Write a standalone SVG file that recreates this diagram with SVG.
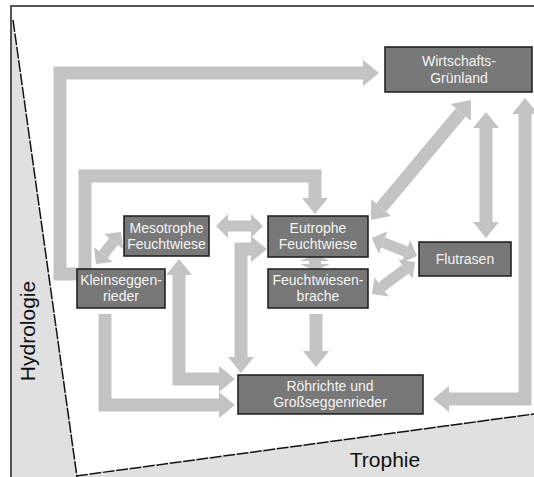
<svg xmlns="http://www.w3.org/2000/svg" width="534" height="477" viewBox="0 0 534 477">
<style>
.c{fill:none;stroke:#c3c3c3;stroke-width:13;stroke-linejoin:miter}
.cs{fill:none;stroke:#c3c3c3;stroke-width:11;stroke-linejoin:miter}
.n{fill:#787878;stroke:#1a1a1a;stroke-width:1.5}
.t{font-family:"Liberation Sans",Arial,sans-serif;font-size:14px;fill:#f4f4f4;text-anchor:middle}
.ax{font-family:"Liberation Sans",Arial,sans-serif;font-size:21px;fill:#111;text-anchor:middle}
</style>
<defs>
<marker id="ah" markerUnits="userSpaceOnUse" markerWidth="20" markerHeight="30" refX="0" refY="13" orient="auto-start-reverse" overflow="visible"><path d="M0,0 L16,13 L0,26 Z" fill="#c3c3c3"/></marker>
<marker id="as" markerUnits="userSpaceOnUse" markerWidth="16" markerHeight="26" refX="0" refY="12" orient="auto-start-reverse" overflow="visible"><path d="M0,0 L12,12 L0,24 Z" fill="#c3c3c3"/></marker>
</defs>
<rect x="0" y="0" width="534" height="477" fill="#fff"/>
<g id="frame">
<polygon points="12,20 77,477 12,477" fill="#e0e0e0"/>
<polygon points="77,477 534,413 534,477" fill="#e0e0e0"/>
<line x1="13" y1="20" x2="77" y2="477" stroke="#111" stroke-width="1.5" stroke-dasharray="12 1.5"/>
<line x1="76" y1="476" x2="534" y2="414" stroke="#111" stroke-width="1.5" stroke-dasharray="12 1.5"/>
<path d="M11,477 V6 H534" fill="none" stroke="#555" stroke-width="2"/>
<text class="ax" transform="translate(35,331) rotate(-90)">Hydrologie</text>
<text class="ax" x="385" y="467">Trophie</text>
</g>
<g id="connectors">
<path class="c" d="M77,274 H60 V73 H363" marker-end="url(#ah)"/>
<path class="c" d="M85,269 V176 H315 V198" marker-end="url(#ah)"/>
<path class="cs" d="M103.4,254.5 L113.6,241.5" marker-start="url(#as)" marker-end="url(#as)"/>
<path class="cs" d="M228,226 H251" marker-start="url(#as)" marker-end="url(#as)"/>
<path class="c" d="M179,275 V379 H219" marker-start="url(#ah)" marker-end="url(#ah)"/>
<path class="c" d="M105,314 V405 H219" marker-end="url(#ah)"/>
<path class="c" d="M251,249 H241 V357" marker-start="url(#ah)" marker-end="url(#ah)"/>
<polygon points="315,254 330,261 321,261 321,264 330,264 315,271 300,264 309,264 309,261 300,261" fill="#c3c3c3"/>
<path class="c" d="M316,314 V351" marker-end="url(#ah)"/>
<path class="c" d="M381.2,207.7 L460.8,112.3" marker-start="url(#ah)" marker-end="url(#ah)"/>
<path class="c" d="M486,128 V222" marker-start="url(#ah)" marker-end="url(#ah)"/>
<path class="c" d="M449,399 H525 V114" marker-start="url(#ah)" marker-end="url(#ah)"/>
<path class="cs" d="M383.1,242.5 L405.9,251.5" marker-start="url(#as)" marker-end="url(#as)"/>
<path class="cs" d="M381.6,286.8 L405.4,269.2" marker-start="url(#as)" marker-end="url(#as)"/>
</g>
<g id="wirtschafts-gruenland">
<rect class="n" x="385" y="47" width="147" height="45"/>
<text class="t" x="459" y="66">Wirtschafts-</text>
<text class="t" x="459" y="83">Grünland</text>
</g>
<g id="mesotrophe-feuchtwiese">
<rect class="n" x="124" y="216" width="85" height="40"/>
<text class="t" x="166.5" y="233">Mesotrophe</text>
<text class="t" x="166.5" y="249">Feuchtwiese</text>
</g>
<g id="kleinseggenrieder">
<rect class="n" x="77" y="269" width="88" height="39"/>
<text class="t" x="121" y="285">Kleinseggen-</text>
<text class="t" x="121" y="301">rieder</text>
</g>
<g id="eutrophe-feuchtwiese">
<rect class="n" x="268" y="216" width="100" height="41"/>
<text class="t" x="318" y="233">Eutrophe</text>
<text class="t" x="318" y="249">Feuchtwiese</text>
</g>
<g id="feuchtwiesenbrache">
<rect class="n" x="268" y="269" width="100" height="39"/>
<text class="t" x="318" y="285">Feuchtwiesen-</text>
<text class="t" x="318" y="301">brache</text>
</g>
<g id="flutrasen">
<rect class="n" x="419" y="242" width="92" height="34"/>
<text class="t" x="465" y="264">Flutrasen</text>
</g>
<g id="roehrichte">
<rect class="n" x="238" y="375" width="185" height="39"/>
<text class="t" x="330" y="391">Röhrichte und</text>
<text class="t" x="330" y="407">Großseggenrieder</text>
</g>
</svg>
